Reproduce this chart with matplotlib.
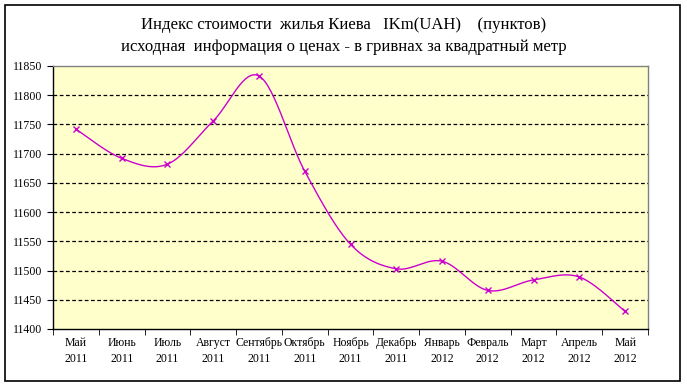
import numpy as np
import matplotlib
matplotlib.use("Agg")
import matplotlib.pyplot as plt
from matplotlib.patches import Rectangle

months = ["Май", "Июнь", "Июль", "Август", "Сентябрь", "Октябрь", "Ноябрь",
          "Декабрь", "Январь", "Февраль", "Март", "Апрель", "Май"]
years = ["2011"] * 8 + ["2012"] * 5
values = [11742, 11692, 11682, 11756, 11833, 11670, 11545,
          11503, 11516, 11466, 11484, 11489, 11430]
yticks = [11400, 11450, 11500, 11550, 11600, 11650, 11700, 11750, 11800, 11850]
title = "Индекс стоимости  жилья Киева   IKm(UAH)    (пунктов)\nисходная  информация о ценах - в гривнах за квадратный метр"

plt.rcParams['font.family'] = ['Liberation Serif', 'DejaVu Serif']

fig = plt.figure(figsize=(6.87, 3.86), dpi=100)
fig.patch.set_facecolor('white')
fig.add_artist(Rectangle((5/687, 1-381/386), 675/687, 376/386, transform=fig.transFigure,
                         fill=False, edgecolor='black', linewidth=1.2))
ax = fig.add_axes([53/687, 1-329/386, 595/687, 263/386])
ax.set_facecolor('#FFFFCC')

x = np.arange(len(values))
y = np.array(values, dtype=float)

# Excel-like smoothed line (Catmull-Rom / Bezier through the points)
def smooth(xs, ys, n=30):
    px, py = [], []
    N = len(xs)
    for i in range(N - 1):
        x0, y0 = (xs[i-1], ys[i-1]) if i > 0 else (xs[i], ys[i])
        x1, y1 = xs[i], ys[i]
        x2, y2 = xs[i+1], ys[i+1]
        x3, y3 = (xs[i+2], ys[i+2]) if i + 2 < N else (xs[i+1], ys[i+1])
        c1x, c1y = x1 + (x2 - x0) / 6, y1 + (y2 - y0) / 6
        c2x, c2y = x2 - (x3 - x1) / 6, y2 - (y3 - y1) / 6
        t = np.linspace(0, 1, n, endpoint=(i == N - 2))
        b0, b1, b2, b3 = (1-t)**3, 3*(1-t)**2*t, 3*(1-t)*t**2, t**3
        px.extend(b0*x1 + b1*c1x + b2*c2x + b3*x2)
        py.extend(b0*y1 + b1*c1y + b2*c2y + b3*y2)
    return np.array(px), np.array(py)

sx, sy = smooth(x, y)
ax.plot(sx, sy, color='#CC00CC', linewidth=1.0, zorder=3)
ax.plot(x, y, linestyle='none', marker='x', markersize=5, color='#CC00CC',
        markeredgewidth=1.0, zorder=4)

ax.set_xlim(-0.5, len(values) - 0.5)
ax.set_ylim(11400, 11850)
ax.set_yticks(yticks)
ax.set_yticklabels([str(v) for v in yticks], fontsize=8.5)
for v in yticks[1:-1]:
    ax.axhline(v, color='black', linestyle=(0, (3, 2)), linewidth=0.9, zorder=1)

ax.set_xticks(x)
ax.set_xticklabels([f"{m}\n{yr}" for m, yr in zip(months, years)], fontsize=8.5, linespacing=1.4)
ax.set_xticks(np.arange(-0.5, len(values)), minor=True)
ax.tick_params(axis='x', which='major', length=0, pad=6)
ax.tick_params(axis='x', which='minor', length=4, direction='out')
ax.tick_params(axis='y', length=4, direction='out', pad=4)

for s in ['left', 'bottom']:
    ax.spines[s].set_color('black')
    ax.spines[s].set_linewidth(1.0)
for s in ['top', 'right']:
    ax.spines[s].set_color('#808080')
    ax.spines[s].set_linewidth(1.0)

fig.text(0.5, 1 - 36/386, title, ha='center', va='center', fontsize=12, linespacing=1.5)

fig.savefig("out.png", dpi=100, facecolor='white')
